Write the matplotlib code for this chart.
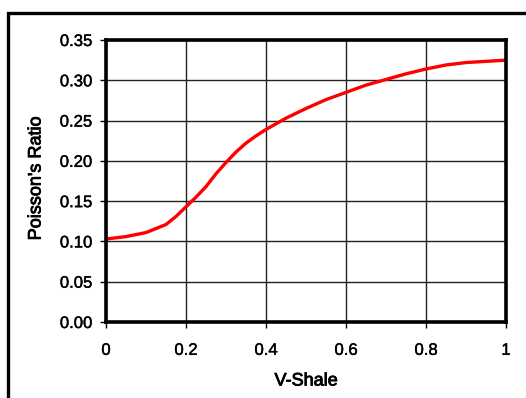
import matplotlib
matplotlib.use("Agg")
import matplotlib.pyplot as plt
from matplotlib.patches import Rectangle
import matplotlib.patheffects as pe

vshale = [0.0, 0.05, 0.1, 0.15, 0.175, 0.2, 0.225, 0.25, 0.275, 0.3, 0.325, 0.35,
          0.375, 0.4, 0.45, 0.5, 0.55, 0.6, 0.65, 0.7, 0.75, 0.8, 0.85, 0.9, 0.95, 1.0]
poisson = [0.103, 0.106, 0.111, 0.121, 0.131, 0.143, 0.155, 0.168, 0.184, 0.198, 0.211, 0.222,
           0.231, 0.239, 0.253, 0.265, 0.276, 0.285, 0.294, 0.301, 0.308, 0.314, 0.319, 0.322,
           0.3235, 0.325]
xticks = [0, 0.2, 0.4, 0.6, 0.8, 1]
xticklabels = ["0", "0.2", "0.4", "0.6", "0.8", "1"]
yticks = [0.0, 0.05, 0.10, 0.15, 0.20, 0.25, 0.30, 0.35]
yticklabels = ["0.00", "0.05", "0.10", "0.15", "0.20", "0.25", "0.30", "0.35"]

plt.rcParams['font.family'] = ['Liberation Sans', 'DejaVu Sans']

fig = plt.figure(figsize=(5.26, 3.98), dpi=100)
fig.patches.append(Rectangle((8/526, -0.1), 1.2, 1 - 13/398 + 0.1,
                             transform=fig.transFigure, fill=False,
                             edgecolor='black', linewidth=2.4))
ax = fig.add_axes([106/526, 1 - 322/398, 400/526, 282/398])
ax.plot(vshale, poisson, color='#ff0000', linewidth=2.4, solid_capstyle='butt',
        solid_joinstyle='round')
ax.set_xlim(0, 1)
ax.set_ylim(0, 0.35)
ax.set_xticks(xticks)
ax.set_xticklabels(xticklabels)
ax.set_yticks(yticks)
ax.set_yticklabels(yticklabels)
ax.grid(True, color='#222222', linewidth=1.0)
ax.set_axisbelow(True)
for s in ax.spines.values():
    s.set_linewidth(2.6)
ax.tick_params(axis='y', direction='out', length=4, width=1, labelsize=12, pad=6)
ax.tick_params(axis='x', direction='out', length=4, width=1, labelsize=12, pad=11)
stroke = [pe.withStroke(linewidth=0.6, foreground='black')]
for lab in ax.get_xticklabels() + ax.get_yticklabels():
    lab.set_path_effects([pe.withStroke(linewidth=0.3, foreground='black')])
fig.text(306/526, 1 - 381/398, "V-Shale", fontsize=13,
         ha='center', va='center', color='black', path_effects=stroke)
fig.text(36/526, 1 - 178.5/398, "Poisson's Ratio", fontsize=13,
         ha='center', va='center', rotation=90, color='black', path_effects=stroke)
fig.savefig("out.png", dpi=100)
